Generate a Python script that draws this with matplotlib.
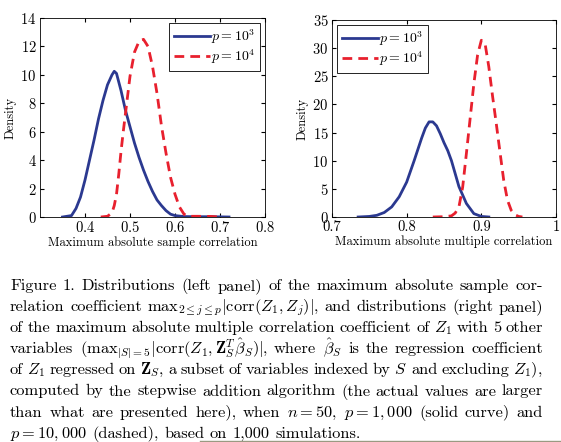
"""
Two density panels with the figure caption underneath
"""
import matplotlib
matplotlib.use('Agg')
import matplotlib.pyplot as plt
from matplotlib.lines import Line2D

plt.rcParams['font.family'] = ['cmr10', 'DejaVu Serif']
plt.rcParams['mathtext.fontset'] = 'cm'
plt.rcParams['axes.formatter.use_mathtext'] = True

BLUE = '#2b3990'
RED = '#e8202e'

# left panel: maximum absolute sample correlation
left_blue_x = [0.35, 0.37, 0.38, 0.39, 0.40, 0.41, 0.42, 0.43, 0.44, 0.45, 0.46, 0.465, 0.47,
               0.48, 0.49, 0.50, 0.51, 0.52, 0.53, 0.54, 0.55, 0.56, 0.57, 0.58, 0.59, 0.60,
               0.62, 0.65, 0.68, 0.72]
left_blue_y = [0, 0.1, 0.6, 1.4, 2.6, 4.0, 5.4, 6.9, 8.2, 9.3, 10.0, 10.25, 10.1,
               8.9, 7.5, 6.35, 5.2, 4.2, 3.3, 2.5, 1.8, 1.2, 0.8, 0.45, 0.2, 0.1,
               0.03, 0.02, 0.02, 0]
left_red_x = [0.435, 0.45, 0.46, 0.465, 0.47, 0.475, 0.48, 0.485, 0.49, 0.495, 0.50, 0.51,
              0.52, 0.53, 0.54, 0.55, 0.56, 0.57, 0.58, 0.59, 0.60, 0.61, 0.62, 0.63, 0.65,
              0.68, 0.70]
left_red_y = [0, 0.05, 0.3, 0.8, 1.6, 3.0, 4.6, 6.0, 7.3, 8.6, 9.9, 11.6,
              12.35, 12.5, 12.0, 10.6, 8.7, 6.4, 4.5, 2.8, 1.6, 0.7, 0.2, 0.05, 0.05,
              0.04, 0]

# right panel: maximum absolute multiple correlation
right_blue_x = [0.735, 0.75, 0.76, 0.77, 0.78, 0.79, 0.80, 0.81, 0.82, 0.825, 0.83, 0.835,
                0.84, 0.845, 0.85, 0.855, 0.86, 0.87, 0.88, 0.89, 0.90, 0.91]
right_blue_y = [0, 0.1, 0.3, 0.8, 1.8, 3.6, 6.2, 10.0, 14.0, 15.8, 16.9, 16.9,
                16.2, 14.8, 13.2, 11.8, 10.0, 5.4, 2.4, 0.6, 0.1, 0]
right_red_x = [0.835, 0.85, 0.86, 0.865, 0.87, 0.875, 0.88, 0.885, 0.89, 0.895, 0.90, 0.905,
               0.91, 0.915, 0.92, 0.925, 0.93, 0.935, 0.94, 0.945, 0.95, 0.955]
right_red_y = [0, 0.05, 0.2, 0.7, 1.8, 5.3, 11.3, 17.5, 23.7, 28.8, 31.4, 30.8,
               26.7, 21.5, 16.6, 11.5, 6.5, 3.0, 1.2, 0.4, 0.1, 0]

labels = [r'$p=10^3$', r'$p=10^4$']
left_xticks = [0.4, 0.5, 0.6, 0.7, 0.8]
left_yticks = [0, 2, 4, 6, 8, 10, 12, 14]
right_xticks = [0.7, 0.8, 0.9, 1.0]
right_xticklabels = ['0.7', '0.8', '0.9', '1']
right_yticks = [0, 5, 10, 15, 20, 25, 30, 35]

caption = [
    r'Figure 1.  Distributions (left panel) of the maximum absolute sample cor-',
    r'relation coefficient $\mathrm{max}_{2\leq j\leq p}|\mathrm{corr}(Z_1,Z_j)|$, and distributions (right panel)',
    r'of the maximum absolute multiple correlation coefficient of $Z_1$ with 5 other',
    r'variables ($\mathrm{max}_{|S|=5}|\mathrm{corr}(Z_1,\mathbf{Z}_S^T\hat{\beta}_S)|$, where $\hat{\beta}_S$ is the regression coefficient',
    r'of $Z_1$ regressed on $\mathbf{Z}_S$, a subset of variables indexed by $S$ and excluding $Z_1$),',
    r'computed by the stepwise addition algorithm (the actual values are larger',
    r'than what are presented here), when $n=50$, $p=1,000$ (solid curve) and',
    r'$p=10,000$ (dashed), based on 1,000 simulations.',
]

W, H = 561, 442
CAP_SIZE = 11.8
fig = plt.figure(figsize=(W / 100, H / 100), dpi=100)


def style_axis(axis, xticks, yticks, xlim, ylim, xlabel):
    axis.set_xlim(*xlim)
    axis.set_ylim(*ylim)
    axis.set_xticks(xticks)
    axis.set_yticks(yticks)
    axis.tick_params(direction='in', top=True, right=True, length=3, labelsize=10.5, pad=2.5)
    axis.set_xlabel(xlabel, fontsize=9, labelpad=1)
    axis.set_ylabel('Density', fontsize=9, labelpad=3)
    for spine in axis.spines.values():
        spine.set_linewidth(0.6)


def add_legend(axis, loc):
    leg = axis.legend(labels, loc=loc, fontsize=10, handlelength=2.6, handletextpad=0.1,
                      labelspacing=0.1, fancybox=False, edgecolor='black', framealpha=1,
                      borderpad=0.35, borderaxespad=0.35)
    leg.get_frame().set_linewidth(0.6)


ax1 = fig.add_axes([40 / W, 1 - 217 / H, 225 / W, 199 / H])
ax1.plot(left_blue_x, left_blue_y, color=BLUE, lw=2)
ax1.plot(left_red_x, left_red_y, color=RED, lw=2, dashes=(3.5, 2.2))
style_axis(ax1, left_xticks, left_yticks, (0.3, 0.8), (0, 14),
           'Maximum absolute sample correlation')
add_legend(ax1, 'upper right')

ax2 = fig.add_axes([332 / W, 1 - 217 / H, 224 / W, 197 / H])
ax2.plot(right_blue_x, right_blue_y, color=BLUE, lw=2)
ax2.plot(right_red_x, right_red_y, color=RED, lw=2, dashes=(3.5, 2.2))
style_axis(ax2, right_xticks, right_yticks, (0.7, 1.0), (0, 35),
           'Maximum absolute multiple correlation')
ax2.set_xticklabels(right_xticklabels)
add_legend(ax2, 'upper left')


def split_words(line):
    # split on spaces that are not inside $...$
    words, cur, in_math = [], '', False
    for ch in line:
        if ch == '$':
            in_math = not in_math
        if ch == ' ' and not in_math:
            if cur:
                words.append(cur)
            cur = ''
        else:
            cur += ch
    if cur:
        words.append(cur)
    return words


# justified caption, one text per word
renderer = fig.canvas.get_renderer()
left_px, right_px = 10, 543
first_base, line_step = 290, 21.1
probe = fig.text(0, 0, 'a a', fontsize=CAP_SIZE)
space_w = probe.get_window_extent(renderer).width
probe.set_text('aa')
space_w -= probe.get_window_extent(renderer).width
probe.remove()
for i, line in enumerate(caption):
    words = split_words(line)
    texts = [fig.text(0, 1 - (first_base + i * line_step) / H, w, fontsize=CAP_SIZE,
                      va='baseline', ha='left') for w in words]
    widths = [t.get_window_extent(renderer).width for t in texts]
    last = i == len(caption) - 1
    gap = space_w if last else (right_px - left_px - sum(widths)) / (len(words) - 1)
    x = left_px
    for t, w in zip(texts, widths):
        t.set_x(x / W)
        x += w + gap

fig.add_artist(Line2D([200 / W, 1], [1 - 440.5 / H] * 2, color='#9a9a82', lw=1))

fig.savefig('out.png', dpi=100)
